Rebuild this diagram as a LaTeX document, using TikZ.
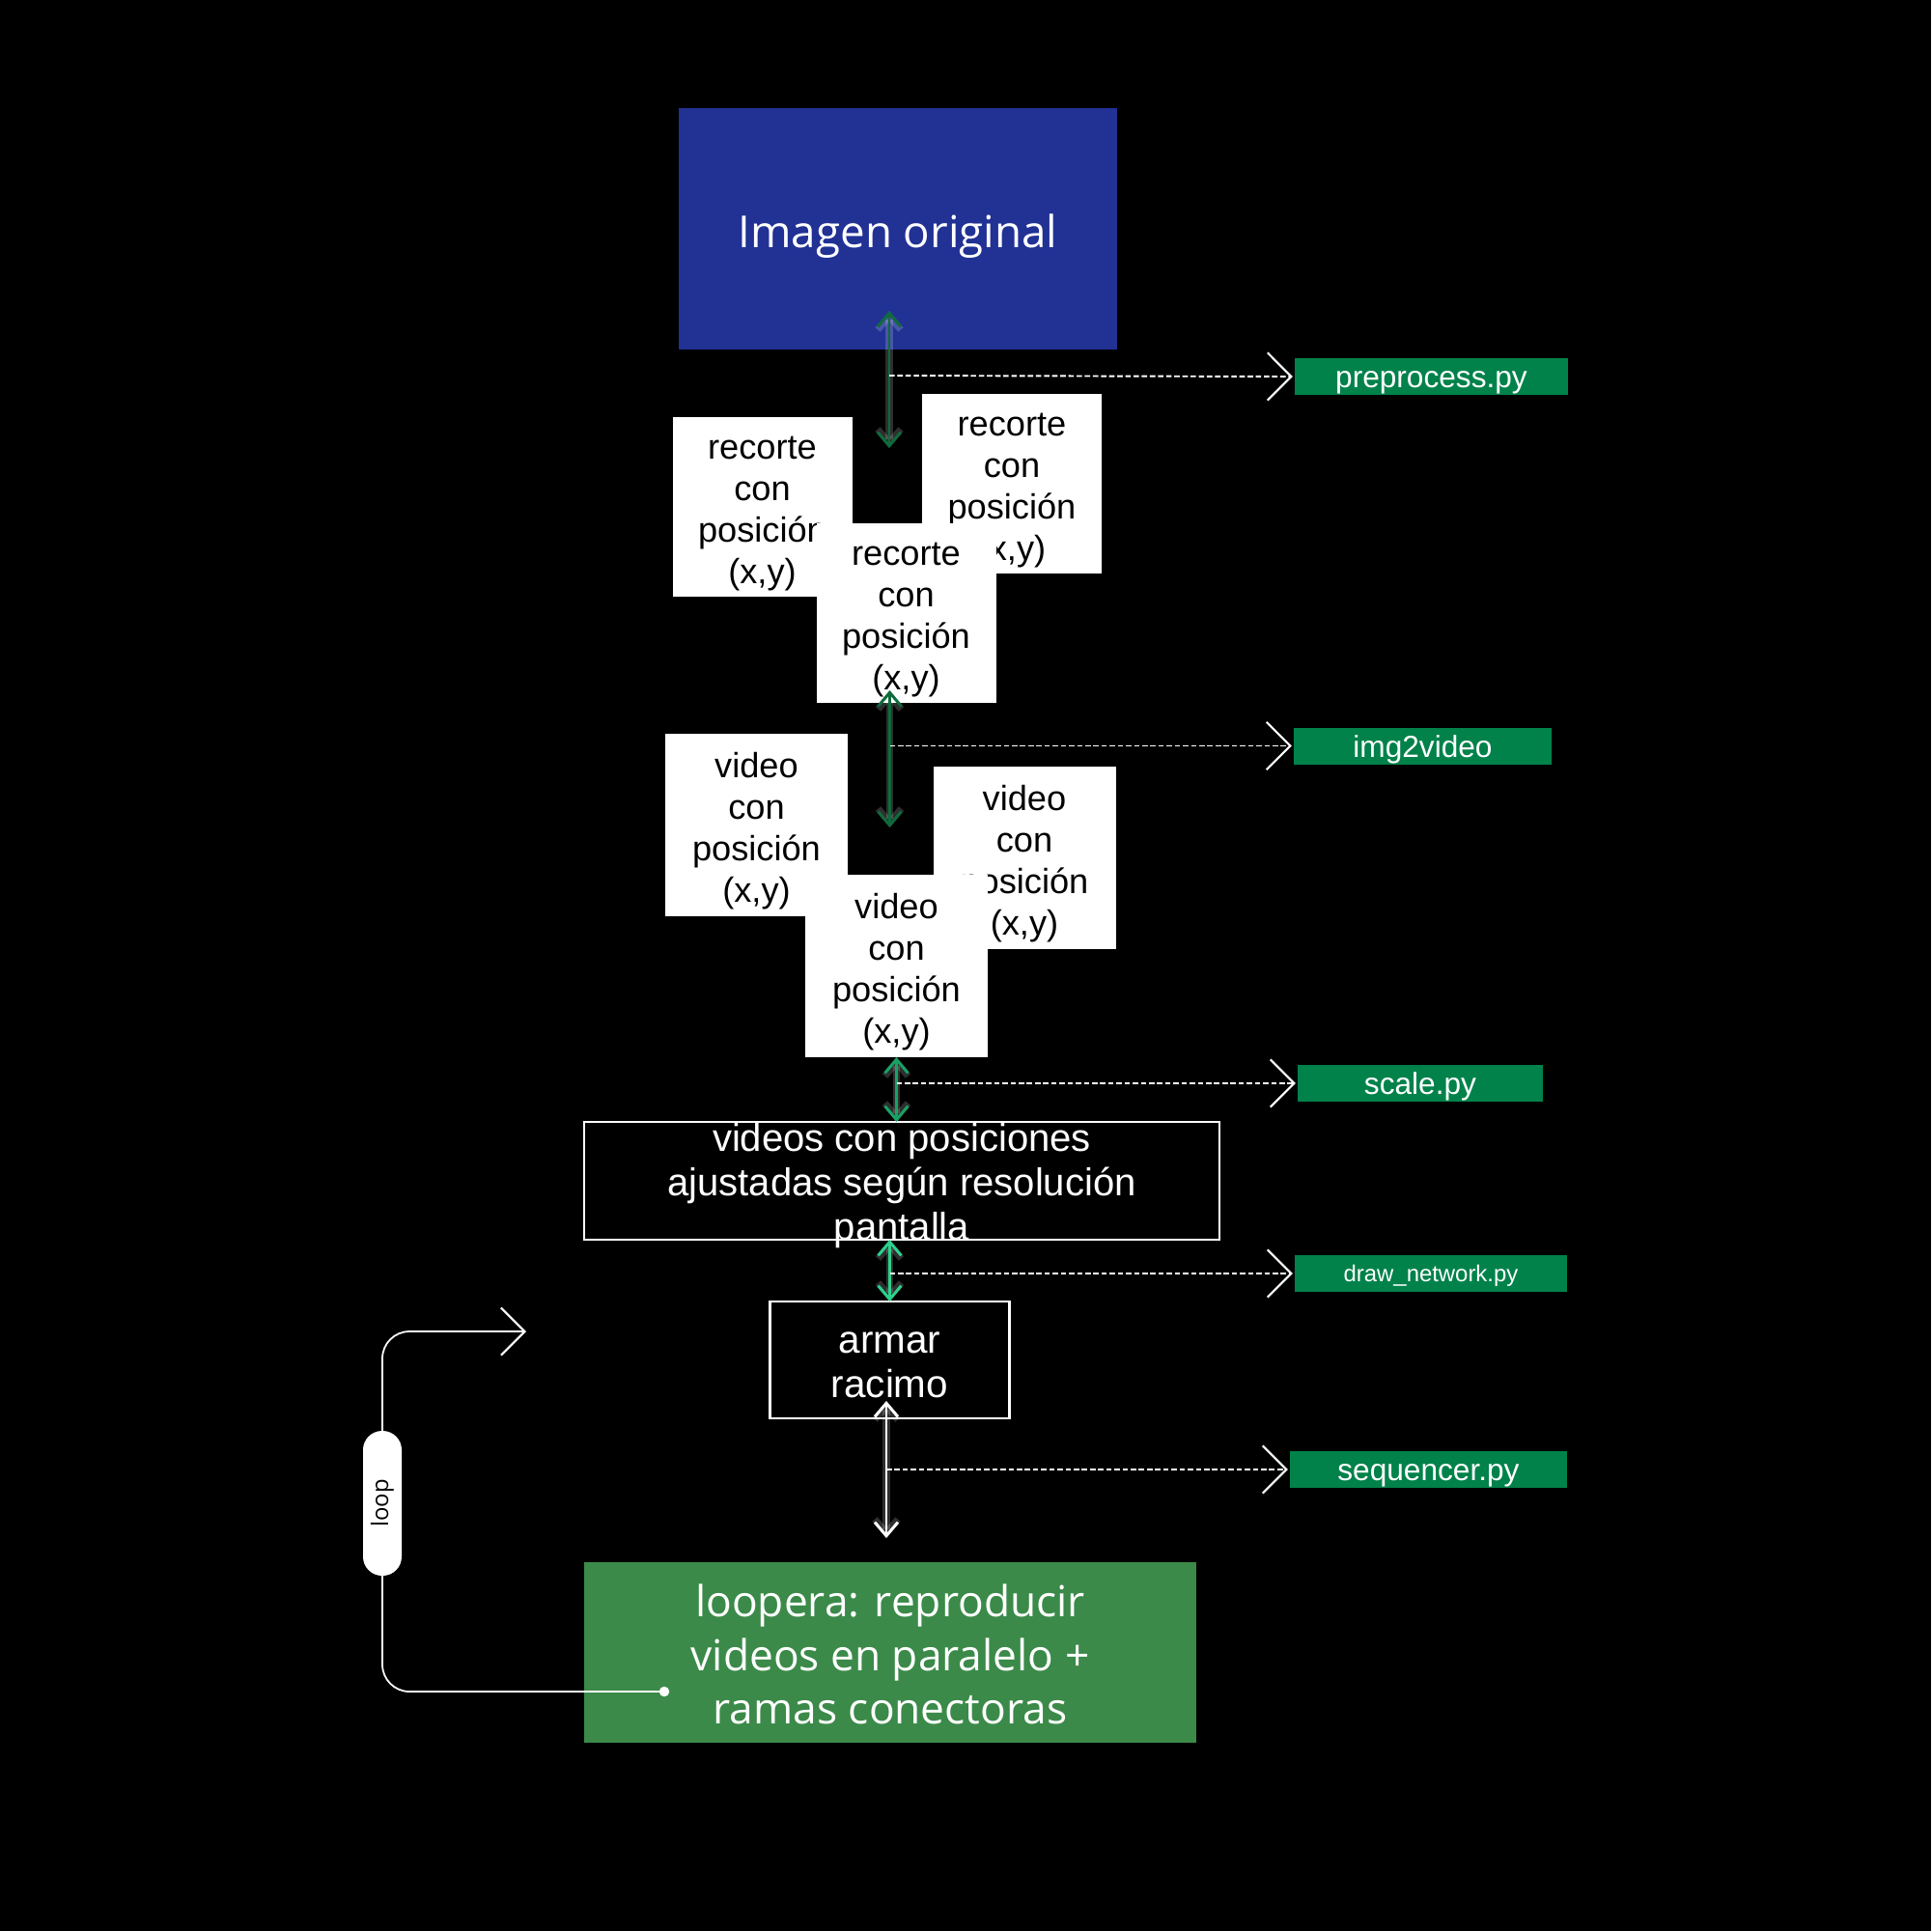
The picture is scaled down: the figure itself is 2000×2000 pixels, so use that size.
\documentclass[tikz,border=0pt]{standalone}
\usepackage{fontspec}
\setmainfont{Liberation Sans}
\newfontfamily\opensans{Open Sans}
\usepackage{xcolor}
\usetikzlibrary{arrows.meta}

\definecolor{origblue}{HTML}{213194}
\definecolor{scriptgreen}{HTML}{00824A}
\definecolor{looperagreen}{HTML}{3B8A49}
\definecolor{flowdark}{HTML}{0E6B3C}
\definecolor{flowmid}{HTML}{17A265}
\definecolor{flowlight}{HTML}{2DD08C}

% texto centrado y bajado un poco dentro de la caja
\newcommand{\boxtext}[2][1.9pt]{\raisebox{-#1}[\height][\depth]{\begin{tabular}{@{}c@{}}#2\end{tabular}}}

\begin{document}
\begin{tikzpicture}[
  x=0.1mm, y=-0.1mm,
  barb/.tip={Straight Barb[length=4pt,width=6.8pt]},
  chev/.tip={Straight Barb[length=7pt,width=14pt,line width=0.6pt]},
  every node/.style={inner sep=0pt, outer sep=0pt, align=center},
  tile/.style={fill=white, text=black, minimum width=1.86cm, minimum height=1.86cm, font=\fontsize{10.3}{12.2}\selectfont},
  frame/.style={draw=white, line width=0.6pt, fill=black, text=white},
  script/.style={fill=scriptgreen, text=white, minimum height=0.38cm, font=\fontsize{9}{10}\selectfont},
  flow/.style={barb-barb, line width=0.85pt, preaction={draw=white, opacity=0.18, line width=2pt, barb-barb}},
  hint/.style={-chev, draw=white, line width=0.55pt, dash pattern=on 1.6pt off 0.8pt, shorten >=0.6pt},
  loopline/.style={-chev, draw=white, line width=0.5pt, rounded corners=8pt}
]
\fill[black] (0,0) rectangle (2000,2000);

\node[fill=origblue, text=white, minimum width=4.54cm, minimum height=2.50cm, font=\opensans\fontsize{13}{15}\selectfont] (orig) at (930,237) {\boxtext[2.5pt]{Imagen original}};
\node[script, minimum width=2.83cm] (prep) at (1482.5,390) {\boxtext[1.3pt]{preprocess.py}};

\node[tile] (cropA) at (789.5,524.5) {\boxtext{recorte\\con\\posición\\(x,y)}};
\node[tile] (cropB) at (1048,501) {\boxtext{recorte\\con\\posición\\(x,y)}};
\node[tile] (cropC) at (938.5,634.5) {\boxtext{recorte\\con\\posición\\(x,y)}};
\node[script, minimum width=2.67cm] (imgvid) at (1473.5,772.5) {\boxtext[1.3pt]{img2video}};

\node[tile, minimum size=1.89cm] (vidD) at (783.5,854.5) {\boxtext{video\\con\\posición\\(x,y)}};
\node[tile, minimum size=1.89cm] (vidE) at (1061,888.5) {\boxtext{video\\con\\posición\\(x,y)}};
\node[tile, minimum size=1.89cm] (vidF) at (928.5,1000.5) {\boxtext{video\\con\\posición\\(x,y)}};
\node[script, minimum width=2.54cm] (scale) at (1471,1122) {\boxtext[1.3pt]{scale.py}};

\node[frame, minimum width=6.58cm, minimum height=1.22cm] (ajuste) at (934,1223) {};
\node[text=white, font=\fontsize{11.4}{13.1}\selectfont] (ajusteT) at ([yshift=-1.4pt]ajuste.center) {videos con posiciones\\ajustadas según resolución\\pantalla};
\node[script, minimum width=2.82cm, font=\fontsize{6.8}{8}\selectfont] (drawnet) at (1482,1319) {\boxtext[0.85pt]{draw\_network.py}};

\node[frame, minimum width=2.48cm, minimum height=1.21cm, font=\fontsize{11.5}{13}\selectfont] (armar) at (921.5,1408.5) {\boxtext{armar\\racimo}};
\node[script, minimum width=2.87cm] (seq) at (1479.5,1522) {\boxtext[1.3pt]{sequencer.py}};

\node[fill=looperagreen, text=white, minimum width=6.34cm, minimum height=1.87cm, font=\opensans\fontsize{12.6}{15.8}\selectfont] (loopera) at (922,1711.5) {\boxtext[2.1pt]{loopera: reproducir\\videos en paralelo +\\ramas conectoras}};

% flechas entre etapas
\coordinate (a1t) at (921,322);
\coordinate (a1b) at (921,464);
\coordinate (a2t) at (921.5,715);
\coordinate (a2b) at (921.5,857);
\coordinate (a5t) at (918,1451);
\coordinate (a5b) at (918,1593);
\draw[flow, draw=flowdark] (a1t) -- (a1b);
\draw[hint] (921,389) -- (prep.west);
\draw[flow, draw=flowdark] (a2t) -- (a2b);
\draw[hint] (921.5,772.5) -- (imgvid.west);
\draw[flow, draw=flowmid] (vidF.south) -- (vidF.south |- ajuste.north);
\draw[hint] (vidF.south |- scale.west) -- (scale.west);
\draw[flow, draw=flowlight] (armar.north |- ajuste.south) -- (armar.north);
\draw[hint] (armar.north |- drawnet.west) -- (drawnet.west);
\draw[flow, draw=white] (a5t) -- (a5b);
\draw[hint] (918,1522) -- (seq.west);

% loop
\coordinate (loopdot) at (688,1752);
\coordinate (looptip) at (545,1379);
\draw[loopline] (loopdot) -- (396,1752) -- (396,1379) -- (looptip);
\fill[white] (loopdot) circle (1.5pt);
\node[fill=white, text=black, rotate=90, minimum width=1.5cm, minimum height=0.4cm, rounded corners=5.6pt, font=\opensans\fontsize{6.8}{8}\selectfont] (looppill) at (396,1557) {loop};
\end{tikzpicture}
\end{document}
